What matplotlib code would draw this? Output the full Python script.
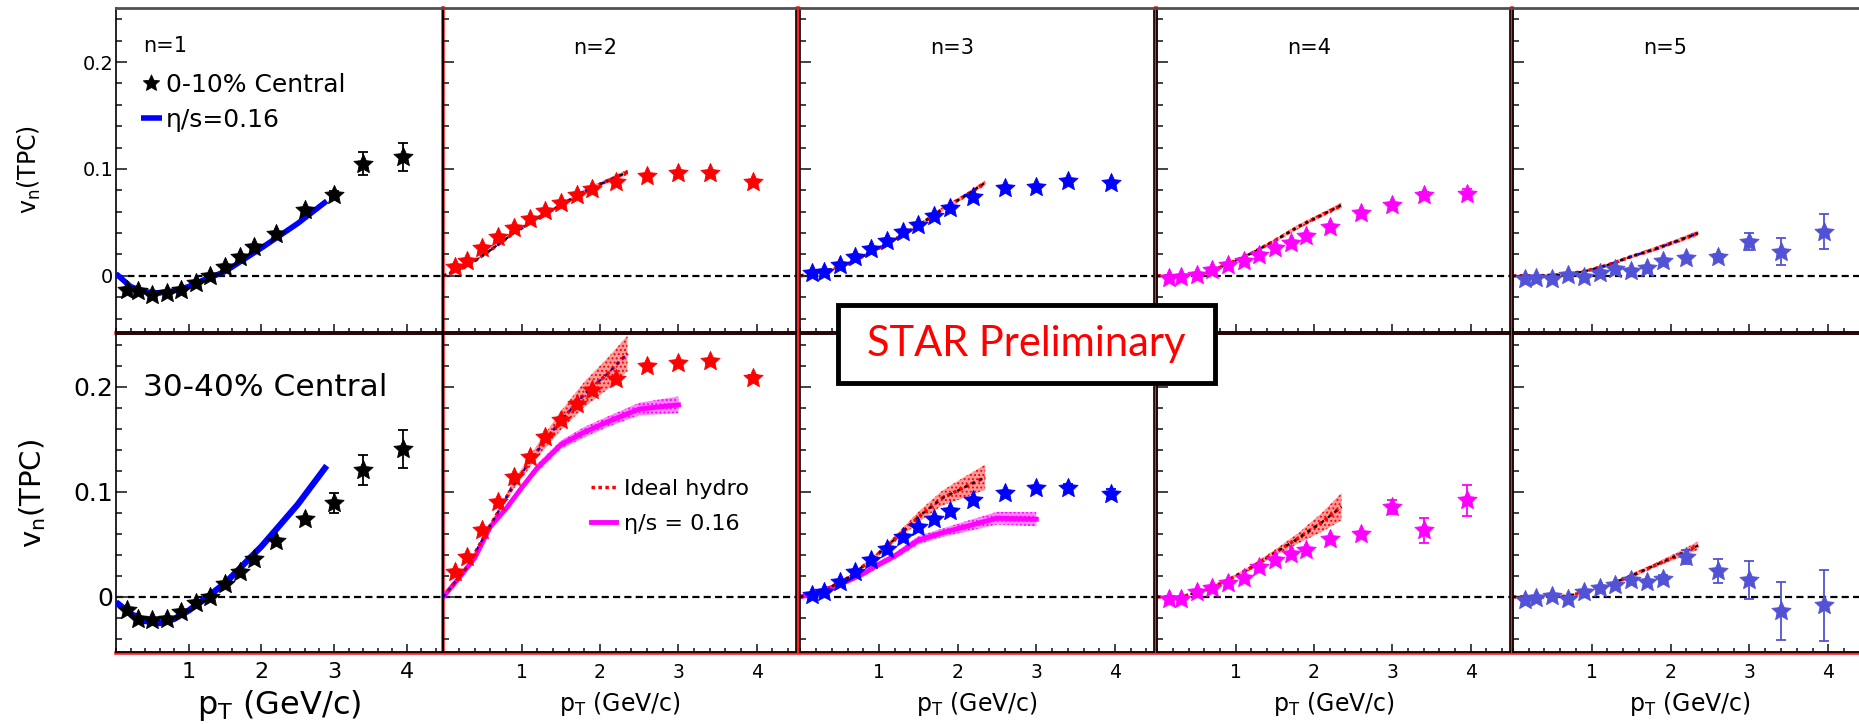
import numpy as np
import matplotlib
matplotlib.use('Agg')
import matplotlib.pyplot as plt
from matplotlib.lines import Line2D
from matplotlib.patches import Rectangle
from matplotlib.path import Path
from matplotlib.ticker import MultipleLocator, FixedLocator, NullFormatter

plt.rcParams['font.family'] = ['DejaVu Sans']
plt.rcParams['mathtext.fontset'] = 'dejavusans'
plt.rcParams['hatch.linewidth'] = 0.9

# ---------------- data ----------------
harmonics = [1, 2, 3, 4, 5]
colors = ['black', '#ff0000', '#0000ff', '#ff00ff', '#5252d6']

pt = [0.15, 0.3, 0.5, 0.7, 0.9, 1.1, 1.3, 1.5, 1.7, 1.9, 2.2, 2.6, 3.0, 3.4, 3.95]

# 0-10% central (top row)
vn_c010 = {
    1: [-0.013, -0.0146, -0.018, -0.016, -0.013, -0.007, 0.0, 0.0087, 0.018, 0.027, 0.039, 0.062, 0.076, 0.105, 0.1115],
    2: [0.0087, 0.0143, 0.026, 0.036, 0.0445, 0.053, 0.061, 0.068, 0.0757, 0.081, 0.088, 0.0935, 0.096, 0.096, 0.088],
    3: [0.0025, 0.004, 0.0103, 0.0174, 0.025, 0.033, 0.041, 0.0477, 0.056, 0.063, 0.0735, 0.082, 0.0835, 0.089, 0.0866],
    4: [-0.002, -0.001, 0.001, 0.0056, 0.0103, 0.0143, 0.0196, 0.026, 0.031, 0.037, 0.046, 0.0586, 0.066, 0.0757, 0.077],
    5: [-0.003, -0.002, -0.003, 0.001, -0.0006, 0.0025, 0.006, 0.005, 0.007, 0.014, 0.0165, 0.018, 0.032, 0.0227, 0.0414],
}
err_c010 = {
    1: [0, 0, 0, 0, 0, 0, 0, 0, 0, 0, 0, 0.001, 0.003, 0.011, 0.013],
    2: [0, 0, 0, 0, 0, 0, 0, 0, 0, 0, 0, 0, 0.001, 0.001, 0.002],
    3: [0, 0, 0, 0, 0, 0, 0, 0, 0, 0, 0, 0, 0.001, 0.002, 0.002],
    4: [0, 0, 0, 0, 0, 0, 0, 0, 0, 0, 0, 0, 0.001, 0.003, 0.004],
    5: [0, 0, 0, 0, 0, 0, 0, 0, 0, 0, 0, 0.002, 0.008, 0.0125, 0.016],
}
# 30-40% central (bottom row)
vn_c3040 = {
    1: [-0.0127, -0.021, -0.022, -0.021, -0.014, -0.006, 0.0, 0.0127, 0.024, 0.036, 0.053, 0.074, 0.0895, 0.121, 0.141],
    2: [0.0238, 0.038, 0.064, 0.0905, 0.114, 0.133, 0.152, 0.169, 0.184, 0.197, 0.208, 0.220, 0.223, 0.225, 0.209],
    3: [0.0016, 0.0048, 0.0143, 0.024, 0.035, 0.046, 0.057, 0.0667, 0.0746, 0.082, 0.092, 0.099, 0.104, 0.104, 0.098],
    4: [-0.0016, -0.0016, 0.0048, 0.0089, 0.0133, 0.0184, 0.0286, 0.0356, 0.0406, 0.045, 0.0556, 0.0597, 0.0857, 0.0635, 0.092],
    5: [-0.003, -0.0006, 0.0006, -0.0016, 0.0048, 0.0089, 0.011, 0.016, 0.0143, 0.0175, 0.038, 0.0248, 0.0159, -0.0133, -0.008],
}
err_c3040 = {
    1: [0, 0, 0, 0, 0, 0, 0, 0, 0, 0, 0, 0.002, 0.0098, 0.014, 0.018],
    2: [0, 0, 0, 0, 0, 0, 0, 0, 0, 0, 0, 0, 0.001, 0.002, 0.002],
    3: [0, 0, 0, 0, 0, 0, 0, 0, 0, 0, 0, 0, 0.001, 0.004, 0.005],
    4: [0, 0, 0, 0, 0, 0, 0, 0, 0, 0, 0, 0, 0.007, 0.012, 0.015],
    5: [0, 0, 0, 0, 0, 0, 0, 0, 0, 0.003, 0.007, 0.0116, 0.018, 0.0275, 0.034],
}

# viscous hydro (eta/s = 0.16) for n=1
visc1_pt = [0, 0.2, 0.4, 0.6, 0.8, 1.0, 1.2, 1.5, 2.0, 2.5, 2.9]
visc1_c010 = [0.002, -0.010, -0.015, -0.016, -0.014, -0.010, -0.004, 0.004, 0.026, 0.049, 0.070]
visc1_c3040 = [-0.005, -0.016, -0.023, -0.025, -0.021, -0.013, -0.003, 0.013, 0.048, 0.088, 0.125]

# ideal hydro bands (n=2..5): centre and half width
ideal_pt = [0.0, 0.3, 0.6, 0.9, 1.2, 1.5, 1.8, 2.1, 2.35]
ideal_c010 = {
    2: [0.0, 0.009, 0.024, 0.040, 0.054, 0.066, 0.079, 0.089, 0.097],
    3: [0.0, 0.004, 0.011, 0.022, 0.034, 0.047, 0.062, 0.075, 0.087],
    4: [0.0, 0.0, 0.002, 0.011, 0.021, 0.033, 0.046, 0.057, 0.066],
    5: [0.0, 0.0, 0.001, 0.004, 0.010, 0.018, 0.025, 0.033, 0.040],
}
ideal_c010_hw = [0.0, 0.0005, 0.001, 0.001, 0.0015, 0.0015, 0.002, 0.002, 0.0025]
ideal_c3040 = {
    2: [0.0, 0.028, 0.068, 0.107, 0.139, 0.168, 0.193, 0.213, 0.232],
    3: [0.0, 0.006, 0.018, 0.035, 0.055, 0.076, 0.094, 0.105, 0.114],
    4: [0.0, 0.0, 0.006, 0.016, 0.028, 0.042, 0.056, 0.071, 0.086],
    5: [0.0, 0.0, 0.0, 0.004, 0.011, 0.020, 0.030, 0.040, 0.049],
}
ideal_c3040_hw = {
    2: [0.0, 0.001, 0.002, 0.004, 0.006, 0.009, 0.012, 0.015, 0.017],
    3: [0.0, 0.0, 0.001, 0.002, 0.003, 0.005, 0.007, 0.010, 0.012],
    4: [0.0, 0.0, 0.0, 0.001, 0.002, 0.003, 0.005, 0.009, 0.013],
    5: [0.0, 0.0, 0.0, 0.001, 0.001, 0.002, 0.002, 0.003, 0.004],
}
# viscous hydro bands (n=2,3) for 30-40%
visc_pt = [0, 0.2, 0.4, 0.6, 0.8, 1.0, 1.2, 1.5, 1.8, 2.1, 2.5, 3.0]
visc_c3040 = {
    2: [0.0, 0.018, 0.037, 0.067, 0.084, 0.104, 0.123, 0.145, 0.157, 0.167, 0.179, 0.183],
    3: [0.0, 0.004, 0.009, 0.015, 0.022, 0.031, 0.039, 0.054, 0.061, 0.067, 0.075, 0.074],
}
visc_c3040_hw = {
    2: [0.0, 0.001, 0.002, 0.002, 0.003, 0.003, 0.004, 0.004, 0.005, 0.005, 0.006, 0.008],
    3: [0.0, 0.001, 0.001, 0.002, 0.002, 0.003, 0.003, 0.004, 0.004, 0.005, 0.006, 0.0067],
}

# ---------------- marker (fat ROOT-like star) ----------------
_ang = np.pi / 2 + np.arange(10) * np.pi / 5
_rad = np.where(np.arange(10) % 2 == 0, 1.0, 0.47)
_verts = np.column_stack([_rad * np.cos(_ang), _rad * np.sin(_ang)])
_verts = np.vstack([_verts, _verts[:1]])
STAR = Path(_verts, [Path.MOVETO] + [Path.LINETO] * 9 + [Path.CLOSEPOLY])

# ---------------- layout ----------------
W, H = 1859, 724
fig = plt.figure(figsize=(W / 100, H / 100), dpi=100)
lefts = [116, 443.3, 800.3, 1157.4, 1512.8]
widths = [327, 352.7, 354, 352.4, 355]
rows = [(8, 332), (334, 652)]

# red separation lines behind the frames
for xb in [443, 797.5, 1156, 1511.5]:
    fig.add_artist(Line2D([xb / W, xb / W], [1 - 652 / H, 1 - 8 / H], color='#ff2020',
                          lw=2.6, transform=fig.transFigure, zorder=-1))
for yb in [332.5, 652.5]:
    fig.add_artist(Line2D([116 / W, 1.0], [1 - yb / H, 1 - yb / H], color='#ff2020',
                          lw=2.6, transform=fig.transFigure, zorder=-1))

def style_axes(ax, row, col):
    ax.set_facecolor('none')
    ax.set_xlim(0, 4.5)
    ax.set_ylim(-0.0525, 0.2505)
    ax.xaxis.set_major_locator(FixedLocator([1, 2, 3, 4]))
    ax.xaxis.set_minor_locator(MultipleLocator(0.2))
    ax.yaxis.set_major_locator(FixedLocator([0, 0.1, 0.2]))
    ax.yaxis.set_minor_locator(MultipleLocator(0.02))
    ax.tick_params(which='both', direction='in', top=False, right=False, width=1.2, color='#222222')
    ax.tick_params(axis='x', which='major', length=6)
    ax.tick_params(axis='x', which='minor', length=3)
    ax.tick_params(axis='y', which='major', length=8)
    ax.tick_params(axis='y', which='minor', length=4.5)
    for s in ax.spines.values():
        s.set_color('black')
        s.set_linewidth(1.2)
    if row == 0:
        ax.spines['top'].set_color('#505050')
        ax.spines['top'].set_linewidth(2.0)
    ax.axhline(0, color='black', lw=1.6, dashes=(3.2, 1.9), zorder=1.5)
    if col == 0:
        ax.set_yticklabels(['0', '0.1', '0.2'])
        ax.tick_params(axis='y', labelsize=14 if row == 0 else 18, pad=2)
        ax.set_ylabel('v$_{\\rm n}$(TPC)', fontsize=17 if row == 0 else 21)
        ax.yaxis.set_label_coords(-0.222 if row == 0 else -0.208, 0.5)
    else:
        ax.yaxis.set_major_formatter(NullFormatter())
    if row == 0:
        ax.xaxis.set_major_formatter(NullFormatter())
    else:
        ax.set_xticklabels(['1', '2', '3', '4'])
        if col == 0:
            ax.tick_params(axis='x', labelsize=16, pad=7)
            ax.set_xlabel('p$_{\\rm T}$ (GeV/c)', fontsize=23)
            ax.xaxis.set_label_coords(0.5, -0.112)
        else:
            ax.tick_params(axis='x', labelsize=13.5, pad=8)
            ax.set_xlabel('p$_{\\rm T}$ (GeV/c)', fontsize=17)
            ax.xaxis.set_label_coords(0.5, -0.118)
    ax.xaxis.label.set_va('top')

axes = {}
for r, (t, b) in enumerate(rows):
    for c in range(5):
        ax = fig.add_axes([lefts[c] / W, 1 - b / H, widths[c] / W, (b - t) / H])
        style_axes(ax, r, c)
        axes[(r, c)] = ax

def data_points(ax, n, vals, errs, col):
    return ax.errorbar(pt, vals, yerr=errs, fmt='none', ecolor=col,
                       elinewidth=1.3, capsize=3.5, capthick=1.3, zorder=3.9), \
           ax.plot(pt, vals, ls='none', marker=STAR, color=col, mec=col, mew=0.6,
                   ms=14.5, zorder=4)[0]

# ----- top row: 0-10% -----
for c, n in enumerate(harmonics):
    ax = axes[(0, c)]
    if n == 1:
        vline, = ax.plot(visc1_pt, visc1_c010, color='#0000ff', lw=4, solid_capstyle='butt', zorder=3)
        _, mk = data_points(ax, n, vn_c010[n], err_c010[n], colors[c])
        ax.legend([mk, vline], ['0-10% Central', 'η/s=0.16'], loc='upper left',
                  bbox_to_anchor=(0.075, 0.80), frameon=False, fontsize=18, handlelength=0.85,
                  handletextpad=0.15, labelspacing=0.45, borderpad=0, borderaxespad=0,
                  numpoints=1, markerscale=0.85)
        ax.text(0.083, 0.883, 'n=1', transform=ax.transAxes, fontsize=15, va='center', ha='left')
    else:
        lo = np.array(ideal_c010[n]) - np.array(ideal_c010_hw)
        hi = np.array(ideal_c010[n]) + np.array(ideal_c010_hw)
        ax.fill_between(ideal_pt, lo, hi, facecolor='#ff9a9a', edgecolor='#ff0000', hatch='....',
                        linewidth=0, zorder=2)
        ax.plot(ideal_pt, ideal_c010[n], color='#ff0000', lw=2.5, ls=(0, (1, 1)), zorder=2.2)
        ax.plot(ideal_pt, ideal_c010[n], color='black', lw=1.5, ls=(0, (1.5, 2)), zorder=2.4)
        if n == 2 or n == 5:
            ax.plot(ideal_pt, ideal_c010[n], color='#0000ff', lw=1.5, ls=(1.5, (1.5, 3)), zorder=2.3)
        data_points(ax, n, vn_c010[n], err_c010[n], colors[c])
        ax.text(0.43, 0.877, 'n=%d' % n, transform=ax.transAxes, fontsize=15, va='center', ha='center')

# ----- bottom row: 30-40% -----
for c, n in enumerate(harmonics):
    ax = axes[(1, c)]
    if n == 1:
        ax.plot(visc1_pt, visc1_c3040, color='#0000ff', lw=4.5, solid_capstyle='butt', zorder=3)
        data_points(ax, n, vn_c3040[n], err_c3040[n], colors[c])
        ax.text(0.083, 0.833, '30-40% Central', transform=ax.transAxes, fontsize=22.5,
                va='center', ha='left')
    else:
        if n in visc_c3040:
            vlo = np.array(visc_c3040[n]) - np.array(visc_c3040_hw[n])
            vhi = np.array(visc_c3040[n]) + np.array(visc_c3040_hw[n])
            ax.fill_between(visc_pt, vlo, vhi, facecolor='#ff88ff', edgecolor='#ff00ff',
                            hatch='....', linewidth=0, zorder=2)
            mline, = ax.plot(visc_pt, visc_c3040[n], color='#ff00ff', lw=3.5, zorder=2.1)
        lo = np.array(ideal_c3040[n]) - np.array(ideal_c3040_hw[n])
        hi = np.array(ideal_c3040[n]) + np.array(ideal_c3040_hw[n])
        ax.fill_between(ideal_pt, lo, hi, facecolor='#ff9a9a', edgecolor='#ff0000', hatch='....',
                        linewidth=0, zorder=2)
        rline, = ax.plot(ideal_pt, ideal_c3040[n], color='#ff0000', lw=2.5, ls=(0, (1, 1)), zorder=2.2)
        ccol = '#0000cc' if n == 2 else 'black'
        ax.plot(ideal_pt, ideal_c3040[n], color=ccol, lw=1.5, ls=(0, (1.5, 2.5)), zorder=2.4)
        data_points(ax, n, vn_c3040[n], err_c3040[n], colors[c])
        if n == 2:
            ax.legend([rline, mline], ['Ideal hydro', 'η/s = 0.16'], loc='upper left',
                      bbox_to_anchor=(0.42, 0.545), frameon=False, fontsize=16, handlelength=1.1,
                      handletextpad=0.35, labelspacing=0.7, borderpad=0, borderaxespad=0)

# ----- STAR Preliminary box -----
bx0, bx1, by0, by1 = 838, 1215, 305, 383
fig.add_artist(Rectangle((bx0 / W, 1 - by1 / H), (bx1 - bx0) / W, (by1 - by0) / H,
                         transform=fig.transFigure, facecolor='white', edgecolor='black',
                         lw=3.5, zorder=10))
fig.text((bx0 + bx1) / 2 / W, 1 - (by0 + by1) / 2 / H, 'STAR Preliminary', color='#ff0000',
         fontsize=30, family=['Lato', 'DejaVu Sans'], ha='center', va='center', zorder=11)

fig.savefig('out.png', dpi=100)
